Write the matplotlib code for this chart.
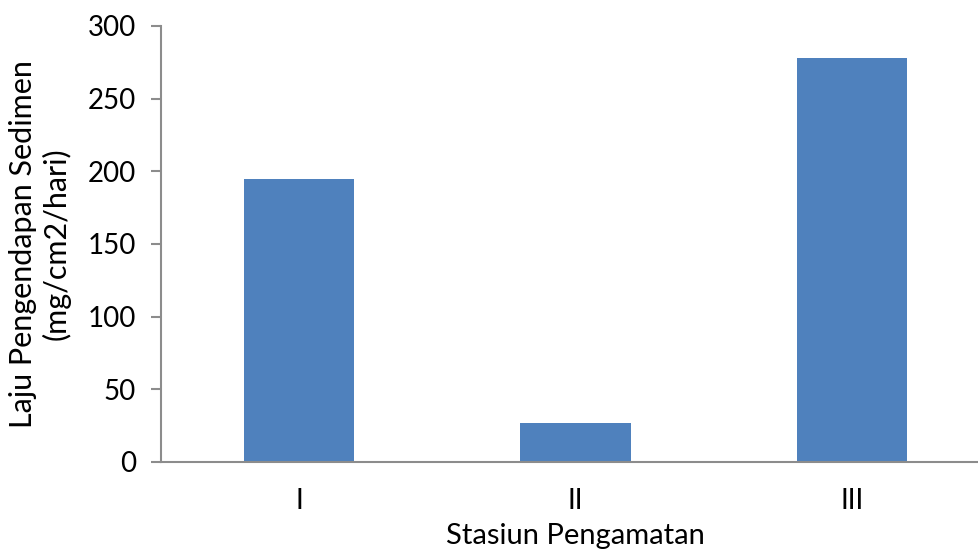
import matplotlib.pyplot as plt

# data
stations = ['I', 'II', 'III']
rates = [195, 27, 278]
yticks = [0, 50, 100, 150, 200, 250, 300]

plt.rcParams['font.family'] = ['Lato', 'DejaVu Sans']

fig = plt.figure(figsize=(9.79, 5.52), dpi=100)
ax = fig.add_axes([161 / 979, 90 / 552, 829 / 979, 436 / 552])

ax.bar(range(len(stations)), rates, width=0.4, color='#4f81bd')
ax.set_xlim(-0.5, len(stations) - 0.5)
ax.set_ylim(0, 300)
ax.set_xticks(range(len(stations)))
ax.set_xticklabels(stations)
ax.set_yticks(yticks)

for s in ['top', 'right']:
    ax.spines[s].set_visible(False)
for s in ['left', 'bottom']:
    ax.spines[s].set_color('#8c8c8c')
    ax.spines[s].set_linewidth(1.5)
ax.tick_params(axis='y', length=7, width=1.5, color='#8c8c8c', labelsize=20, pad=11)
ax.tick_params(axis='x', length=0, labelsize=20, pad=19)

ax.set_xlabel('Stasiun Pengamatan', fontsize=21, labelpad=6)
ax.set_ylabel('Laju Pengendapan Sedimen\n(mg/cm2/hari)', fontsize=22, labelpad=12)

fig.savefig('out.png', dpi=100)
